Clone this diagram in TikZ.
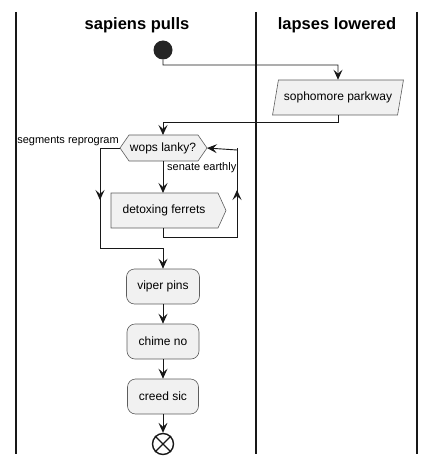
\documentclass[tikz,border=0pt]{standalone}
\usepackage{fontspec}
\setmainfont{Liberation Sans}
\usetikzlibrary{shapes.geometric,shapes.symbols,arrows.meta}
\definecolor{ln}{HTML}{181818}
\definecolor{fl}{HTML}{F1F1F1}
\tikzset{
  arr/.style={draw=ln,line width=0.9pt,-{Stealth[length=10pt,width=9pt,inset=4pt]}},
  ln/.style={draw=ln,line width=0.9pt},
  act/.style={draw=ln!70,fill=fl,line width=0.6pt,rounded corners=8pt,minimum width=73pt,minimum height=35pt,font=\fontsize{12}{14}\selectfont,inner sep=0pt},
  lab/.style={font=\fontsize{11}{13}\selectfont,inner sep=0pt},
  head/.style={font=\bfseries\fontsize{16.5}{19}\selectfont,inner sep=0pt},
  lane/.style={draw=ln,line width=1.3pt}
}
\begin{document}
\begin{tikzpicture}[x=1pt,y=-1pt]
\useasboundingbox (0,0) rectangle (436,465);
\draw[lane] (16,12) -- (16,454);
\draw[lane] (256,12) -- (256,454);
\draw[lane] (417,12) -- (417,454);
\node[head] (h1) at (137,25) {sapiens pulls};
\node[head] (h2) at (337,25) {lapses lowered};
% start
\node[circle,fill=ln!95,minimum size=19pt,inner sep=0pt] (start) at (163,50) {};
% parallelogram
\node[draw=ln!70,fill=fl,line width=0.6pt,trapezium,trapezium left angle=70,trapezium right angle=110,minimum height=35pt,minimum width=131pt,inner sep=2pt,font=\fontsize{12}{14}\selectfont,trapezium stretches=true] (soph) at (338,97.5) {sophomore parkway};
% hexagon
\coordinate (hl) at (120,148);
\coordinate (hr) at (207,148);
\draw[draw=ln!70,fill=fl,line width=0.6pt] (120,148) -- (129,135) -- (198,135) -- (207,148) -- (198,161) -- (129,161) -- cycle;
\node[font=\fontsize{12}{14}\selectfont,inner sep=0pt] (wops) at (163,148) {wops lanky?};
\coordinate (wt) at (163,135);
\coordinate (wb) at (163,161);
% detoxing ferrets
\draw[draw=ln!70,fill=fl,line width=0.6pt] (111,193) -- (218,193) -- (226,210.5) -- (218,228) -- (111,228) -- cycle;
\node[font=\fontsize{12}{14}\selectfont,inner sep=0pt] (detox) at (164,210.5) {detoxing ferrets};
\coordinate (dt) at (163,193);
\coordinate (db) at (163,228);
% actions
\node[act] (viper) at (163,286.5) {viper pins};
\node[act,minimum width=72pt] (chime) at (163,341.5) {chime no};
\node[act,minimum width=71pt] (creed) at (163,396.5) {creed sic};
% end
\node[circle,draw=ln,line width=1.4pt,fill=white,minimum size=21pt,inner sep=0pt] (stop) at (163,444) {};
\draw[ln,line width=1.4pt] (stop.north west) -- (stop.south east) (stop.north east) -- (stop.south west);
% connectors
\draw[arr] (start.south) |- (338,65) -- (soph.north);
\draw[arr] (soph.south) |- (163,122) -- (wt);
\draw[arr] (wb) -- (dt);
\node[lab,anchor=west] (se) at (167,168) {senate earthly};
\node[lab,anchor=east] (sr) at (119,141) {segments reprogram};
\draw[ln] (db) -- (163,237) -| (237,148);
\draw[arr] (237,237) -- (237,190);
\draw[arr] (237,150) -- (hr);
\draw[ln] (hl) -| (100,248) -- (163,248);
\draw[arr] (100,160) -- (100,200);
\draw[arr] (163,248) -- (viper.north);
\draw[arr] (viper.south) -- (chime.north);
\draw[arr] (chime.south) -- (creed.north);
\draw[arr] (creed.south) -- (stop.north);
\end{tikzpicture}
\end{document}
